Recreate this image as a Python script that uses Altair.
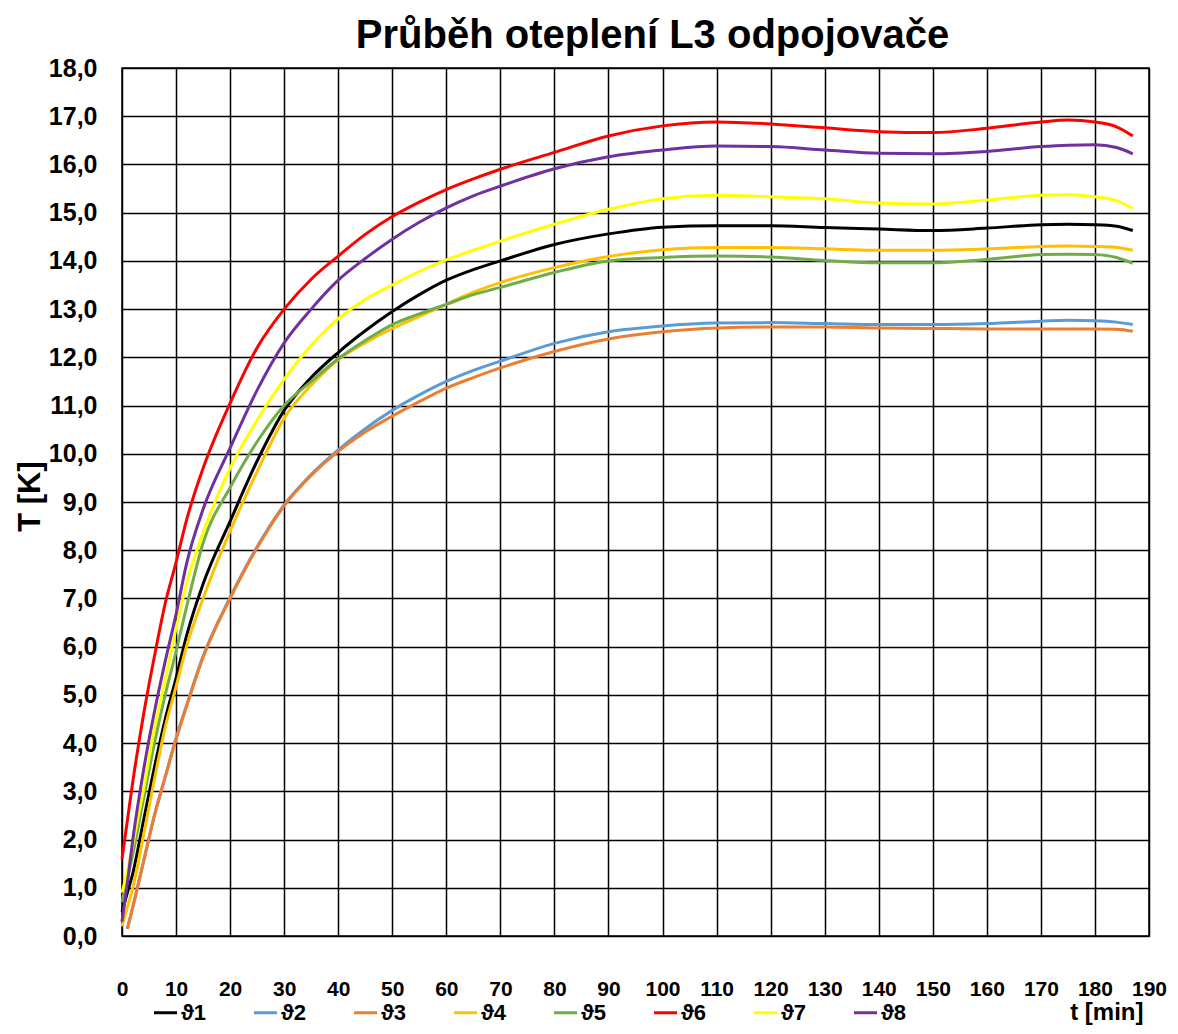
import altair as alt
import pandas as pd

times = [0, 1, 2, 4, 6, 8, 10, 12, 15, 20, 25, 30, 35, 40, 45, 50, 55, 60, 65, 70,
         80, 90, 100, 110, 120, 130, 140, 150, 160, 170, 175, 180, 184, 187]

theta1 = [0.5, 0.9, 1.3, 2.4, 3.5, 4.5, 5.35, 6.25, 7.3, 8.6, 9.85, 10.9, 11.58, 12.1, 12.55, 12.95, 13.3, 13.6, 13.82, 14.0,
          14.34, 14.56, 14.7, 14.73, 14.73, 14.69, 14.66, 14.63, 14.68, 14.75, 14.76, 14.75, 14.72, 14.63]
theta2 = [None, 0.15, 0.6, 1.55, 2.5, 3.3, 4.1, 4.8, 5.8, 7.02, 8.07, 8.94, 9.57, 10.08, 10.52, 10.9, 11.22, 11.5, 11.73, 11.92,
          12.29, 12.53, 12.65, 12.71, 12.72, 12.7, 12.68, 12.68, 12.7, 12.75, 12.77, 12.76, 12.73, 12.68]
theta3 = [None, 0.15, 0.6, 1.55, 2.5, 3.3, 4.08, 4.78, 5.78, 7.0, 8.05, 8.92, 9.55, 10.05, 10.45, 10.78, 11.08, 11.36, 11.58, 11.78,
          12.12, 12.38, 12.53, 12.61, 12.63, 12.63, 12.61, 12.6, 12.59, 12.59, 12.59, 12.59, 12.58, 12.54]
theta4 = [0.2, 0.6, 1.0, 2.1, 3.25, 4.33, 5.17, 6.03, 7.0, 8.4, 9.63, 10.74, 11.42, 11.95, 12.3, 12.6, 12.85, 13.1, 13.35, 13.55,
          13.86, 14.09, 14.23, 14.28, 14.28, 14.25, 14.22, 14.22, 14.25, 14.3, 14.31, 14.3, 14.28, 14.22]
theta5 = [0.7, 1.2, 1.7, 2.85, 4.0, 5.0, 5.9, 6.85, 8.15, 9.3, 10.25, 11.0, 11.5, 11.97, 12.35, 12.68, 12.9, 13.1, 13.3, 13.45,
          13.76, 14.0, 14.07, 14.1, 14.08, 14.01, 13.96, 13.96, 14.03, 14.13, 14.14, 14.13, 14.07, 13.95]
theta6 = [1.6, 2.4, 3.2, 4.6, 5.8, 6.9, 7.75, 8.65, 9.7, 11.05, 12.2, 13.0, 13.62, 14.1, 14.55, 14.92, 15.22, 15.48, 15.7, 15.9,
          16.25, 16.59, 16.8, 16.88, 16.84, 16.76, 16.68, 16.66, 16.75, 16.88, 16.92, 16.88, 16.78, 16.59]
theta7 = [0.9, 1.35, 1.9, 3.05, 4.3, 5.33, 6.38, 7.33, 8.36, 9.7, 10.7, 11.55, 12.25, 12.8, 13.2, 13.5, 13.78, 14.02, 14.22, 14.41,
          14.76, 15.07, 15.29, 15.36, 15.33, 15.29, 15.2, 15.18, 15.26, 15.36, 15.37, 15.33, 15.25, 15.09]
theta8 = [0.3, 1.1, 2.0, 3.45, 4.65, 5.7, 6.67, 7.75, 8.85, 10.12, 11.32, 12.3, 13.0, 13.6, 14.05, 14.45, 14.8, 15.1, 15.35, 15.55,
          15.91, 16.16, 16.3, 16.38, 16.37, 16.3, 16.23, 16.22, 16.27, 16.37, 16.4, 16.41, 16.35, 16.22]

names = ["ϑ1", "ϑ2", "ϑ3", "ϑ4", "ϑ5", "ϑ6", "ϑ7", "ϑ8"]
colors = ["#000000", "#5B9BD5", "#ED7D31", "#FFC000", "#70AD47", "#FF0000", "#FFFF00", "#7030A0"]
series = [theta1, theta2, theta3, theta4, theta5, theta6, theta7, theta8]

x_ticks = list(range(0, 191, 10))
y_ticks = list(range(0, 19))

rows = []
for name, vals in zip(names, series):
    for t, v in zip(times, vals):
        if v is not None:
            rows.append({"t": t, "T": v, "serie": name})
df = pd.DataFrame(rows)

FONT = "Liberation Sans"

chart = alt.Chart(df).mark_line(strokeWidth=3, interpolate="monotone").encode(
    x=alt.X("t:Q",
            scale=alt.Scale(domain=[0, 190], nice=False, zero=False),
            axis=alt.Axis(values=x_ticks, title="t [min]", grid=True, ticks=False,
                          labelPadding=42, labelFont=FONT, labelFontSize=21, labelFontWeight="bold",
                          labelColor="black", labelFlush=False, labelOverlap=False,
                          titleFont=FONT, titleFontSize=24, titleFontWeight="bold", titleColor="black",
                          titleX=1021, titleY=76, titleAlign="right", titleBaseline="middle",
                          domainColor="black", gridColor="black", gridWidth=1.5, gridOpacity=1)),
    y=alt.Y("T:Q",
            scale=alt.Scale(domain=[0, 18], nice=False),
            axis=alt.Axis(values=y_ticks, title="T [K]", grid=True, ticks=False,
                          labelExpr="replace(format(datum.value, '.1f'), '.', ',')",
                          labelPadding=25, labelFont=FONT, labelFontSize=25, labelFontWeight="bold",
                          labelColor="black", labelFlush=False, labelOverlap=False,
                          titleFont=FONT, titleFontSize=31, titleFontWeight="bold", titleColor="black",
                          titleX=-92, titleY=428, titleAngle=-90, titleAlign="center", titleBaseline="middle",
                          domainColor="black", gridColor="black", gridWidth=1.5, gridOpacity=1)),
    color=alt.Color("serie:N",
                    scale=alt.Scale(domain=names, range=colors),
                    legend=alt.Legend(title=None, orient="none", legendX=30, legendY=931,
                                      direction="horizontal", columns=8,
                                      symbolType="stroke", symbolSize=530, symbolStrokeWidth=3,
                                      labelFont=FONT, labelFontSize=22, labelFontWeight="bold",
                                      labelColor="black", labelOffset=2, columnPadding=40,
                                      gridAlign="all")),
).properties(
    width=1027,
    height=868,
    title=alt.TitleParams("Průběh oteplení L3 odpojovače", font=FONT, fontSize=40,
                          fontWeight="bold", color="black", anchor="middle", dx=17, offset=0),
    autosize=alt.AutoSizeParams(type="none"),
    padding={"left": 114, "top": 60, "right": 21, "bottom": 90},
    background="white",
).configure_view(stroke="black", strokeWidth=1.5)

chart.save("out.html", embed_options={"renderer": "svg", "actions": False})
